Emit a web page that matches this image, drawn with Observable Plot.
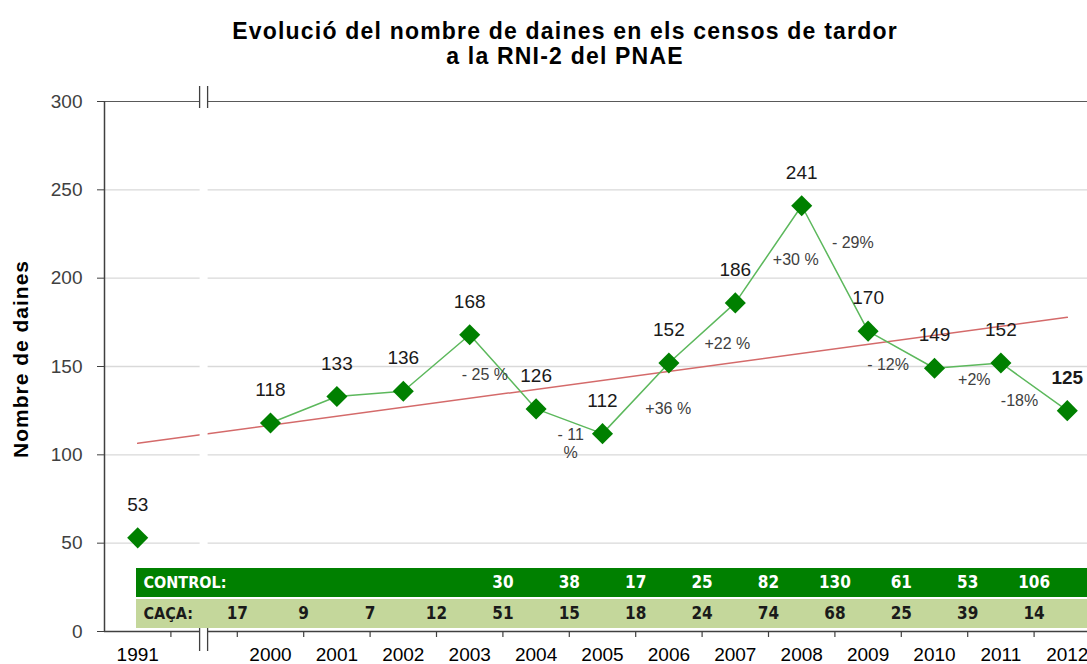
<!DOCTYPE html>
<html><head><meta charset="utf-8">
<script src="https://cdn.jsdelivr.net/npm/d3@7"></script>
<script src="https://cdn.jsdelivr.net/npm/@observablehq/plot@0.6"></script>
<style>
body{margin:0;background:#fff;width:1087px;height:664px;overflow:hidden;position:relative;font-family:"Liberation Sans",Arial,sans-serif}
#title{height:80px;box-sizing:border-box;padding:19px 0 0 43px;text-align:center;font-weight:bold;font-size:23px;line-height:25px;letter-spacing:1.2px;color:#000}
#ytitle{position:absolute;left:21px;top:359px;transform:translate(-50%,-50%) rotate(-90deg);white-space:nowrap;font-weight:bold;font-size:21px;letter-spacing:1px;color:#000}
#chart svg{display:block}
</style></head><body>
<div id="title">Evolució del nombre de daines en els censos de tardor<br>a la RNI-2 del PNAE</div>
<div id="ytitle">Nombre de daines</div>
<div id="chart"></div>
<script>
// ---- data ----
const categories = ["1991", "", "2000", "2001", "2002", "2003", "2004", "2005", "2006", "2007", "2008", "2009", "2010", "2011", "2012"];
const years = ["1991", "2000", "2001", "2002", "2003", "2004", "2005", "2006", "2007", "2008", "2009", "2010", "2011", "2012"];
const counts = [53, 118, 133, 136, 168, 126, 112, 152, 186, 241, 170, 149, 152, 125];
const cacaYears = ["2000", "2001", "2002", "2003", "2004", "2005", "2006", "2007", "2008", "2009", "2010", "2011", "2012"];
const caca = [17, 9, 7, 12, 51, 15, 18, 24, 74, 68, 25, 39, 14];
const controlYears = ["2004", "2005", "2006", "2007", "2008", "2009", "2010", "2011", "2012"];
const control = [30, 38, 17, 25, 82, 130, 61, 53, 106];
const changeLabels = ["- 25 %", "- 11\n%", "+36 %", "+22 %", "+30 %", "- 29%", "- 12%", "+2%", "-18%"];
const changeAt = [5.23, 6.52, 7.99, 8.88, 9.91, 10.77, 11.30, 12.60, 13.28];   // position along the category axis
const changeValue = [145.5, 106.4, 126.5, 163.3, 210.6, 220.2, 151.4, 142.6, 131.0];
const yTicks = [0, 50, 100, 150, 200, 250, 300];

// ---- layout ----
const W = 1087, H = 584, mTop = 21, mBottom = 33, mLeft = 104, band = 66.4;
const pos = yr => categories.indexOf(yr);
const pts = years.map((yr, i) => ({yr, i: pos(yr), v: counts[i]}));
const linePts = pts.filter(d => d.yr !== "1991");
const last = pts[pts.length - 1];
const gap = pos("");
const vpp = 300 / (H - mTop - mBottom);   // value per pixel
const xpp = 1 / band;                      // x-units per pixel
const tableLeft = -0.5 + 32 * xpp, tableRight = categories.length + 1;
const ctrlRow = [19.25, 35.66], cacaRow = [1.7, 18.11];
const ctrlMid = (ctrlRow[0] + ctrlRow[1]) / 2, cacaMid = (cacaRow[0] + cacaRow[1]) / 2;
const labelFont = '"DejaVu Sans Condensed", "DejaVu Sans", sans-serif';
const numFont = '"Liberation Sans Narrow", "Arial Narrow", "DejaVu Sans Condensed", sans-serif';

const plot = Plot.plot({
  width: W, height: H,
  marginTop: mTop, marginBottom: mBottom, marginLeft: mLeft, marginRight: 0,
  style: {fontFamily: '"Liberation Sans", Arial, sans-serif', background: "white"},
  x: {type: "linear", domain: [-0.5, categories.length - 0.5], range: [mLeft, mLeft + categories.length * band], axis: null},
  y: {domain: [0, 300], axis: null},
  marks: [
    Plot.ruleY(yTicks.filter(t => t > 0 && t < 300), {stroke: "#d9d9d9", strokeWidth: 1.3}),
    Plot.ruleY([300], {stroke: "#595959", strokeWidth: 1.2}),
    Plot.linearRegressionY(pts, {x: "i", y: "v", ci: 0, stroke: "#d46a6a", strokeWidth: 1.5}),
    Plot.ruleY([0], {stroke: "#404040", strokeWidth: 1.5}),
    Plot.ruleX(d3.range(0.5, categories.length - 1), {y1: 0, y2: -6 * vpp, stroke: "#404040", strokeWidth: 1.2}),
    Plot.text(pts, {x: "i", y: 0, text: "yr", dy: 23, fontSize: 19, fill: "#000"}),
    // axis break
    Plot.rect([gap], {x1: d => d - 4 * xpp, x2: d => d + 4 * xpp, y1: -3 * vpp, y2: 300 + 3 * vpp, fill: "white"}),
    Plot.ruleX([gap - 4.5 * xpp, gap + 3.5 * xpp], {y1: 300 - 7 * vpp, y2: 300 + 15 * vpp, stroke: "#404040", strokeWidth: 1.3}),
    Plot.ruleX([gap - 4.5 * xpp, gap + 3.5 * xpp], {y1: -20 * vpp, y2: 3 * vpp, stroke: "#404040", strokeWidth: 1.3}),
    Plot.ruleX([-0.5], {stroke: "#404040", strokeWidth: 1.5}),
    Plot.axisY({ticks: yTicks, tickSize: 7, tickPadding: 15, fontSize: 19, color: "#404040", label: null}),
    // table
    Plot.rect([0], {x1: tableLeft, x2: tableRight, y1: ctrlRow[0], y2: ctrlRow[1], fill: "#008000"}),
    Plot.rect([0], {x1: tableLeft, x2: tableRight, y1: cacaRow[0], y2: cacaRow[1], fill: "#c4d79b"}),
    Plot.text(["CONTROL:"], {x: tableLeft, y: ctrlMid, dx: 7, textAnchor: "start", fill: "white", fontWeight: "bold", fontSize: 16, fontFamily: labelFont}),
    Plot.text(["CAÇA:"], {x: tableLeft, y: cacaMid, dx: 7, textAnchor: "start", fill: "#1a1a1a", fontWeight: "bold", fontSize: 16, fontFamily: labelFont}),
    Plot.text(control, {x: (d, i) => pos(controlYears[i]) - 0.5, y: ctrlMid, text: d => String(d), fill: "white", fontWeight: "bold", fontSize: 17, fontFamily: numFont}),
    Plot.text(caca, {x: (d, i) => pos(cacaYears[i]) - 0.5, y: cacaMid, text: d => String(d), fill: "#1a1a1a", fontWeight: "bold", fontSize: 17, fontFamily: numFont}),
    // series
    Plot.line(linePts, {x: "i", y: "v", stroke: "#5cb85c", strokeWidth: 1.5}),
    Plot.dot(pts, {x: "i", y: "v", symbol: "diamond2", r: 9.5, fill: "#008000"}),
    Plot.text(pts.filter(d => d !== last), {x: "i", y: "v", text: d => String(d.v), dy: -33, fontSize: 19, fill: "#1a1a1a"}),
    Plot.text([last], {x: "i", y: "v", text: d => String(d.v), dy: -33, fontSize: 19, fontWeight: "bold", fill: "#1a1a1a"}),
    Plot.text(changeLabels, {x: (d, i) => changeAt[i], y: (d, i) => changeValue[i], text: d => d, fontSize: 16, fill: "#404040", lineHeight: 1.1})
  ]
});
document.getElementById("chart").appendChild(plot);
</script>
</body></html>
